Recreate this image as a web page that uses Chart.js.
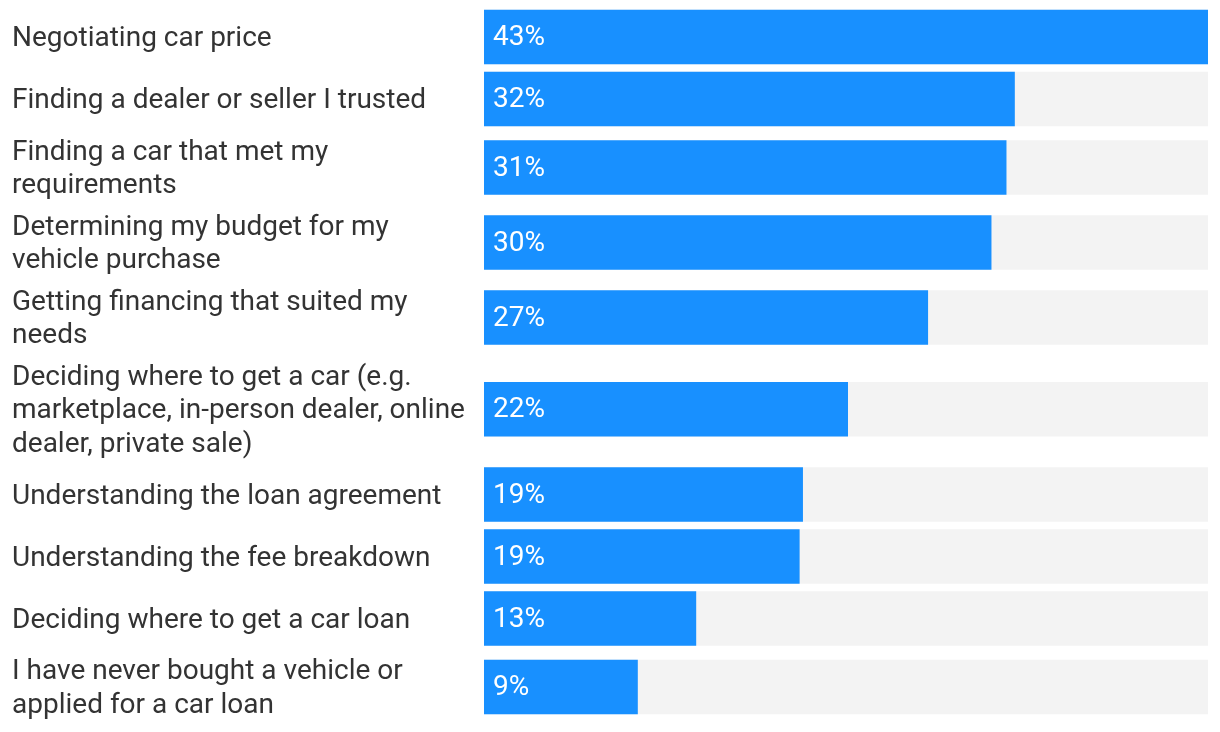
<!DOCTYPE html>
<html>
<head>
<meta charset="utf-8">
<script src="https://cdn.jsdelivr.net/npm/chart.js@4/dist/chart.umd.min.js"></script>
<style>
    html, body { margin: 0; padding: 0; background: #fff; }
    #wrap { width: 1220px; height: 732px; }
</style>
</head>
<body>
<div id="wrap"><canvas id="chart"></canvas></div>
<script>
const categories = [
    ["Negotiating car price"],
    ["Finding a dealer or seller I trusted"],
    ["Finding a car that met my", "requirements"],
    ["Determining my budget for my", "vehicle purchase"],
    ["Getting financing that suited my", "needs"],
    ["Deciding where to get a car (e.g.", "marketplace, in-person dealer, online", "dealer, private sale)"],
    ["Understanding the loan agreement"],
    ["Understanding the fee breakdown"],
    ["Deciding where to get a car loan"],
    ["I have never bought a vehicle or", "applied for a car loan"]
];
const values = [43.4, 31.8, 31.3, 30.4, 26.6, 21.8, 19.1, 18.9, 12.7, 9.2];
const valueLabels = ["43%", "32%", "31%", "30%", "27%", "22%", "19%", "19%", "13%", "9%"];

const barHeight = 54;
const lineHeight = 33.5;
const rowGap = 8;
const fontSize = 28;
const fontFamily = "Roboto, 'Open Sans', sans-serif";

// rows get taller when the label wraps, so place each row on a linear axis
let rowCenters = [];
let total = 0;
categories.forEach(lines => {
    let size = Math.max(barHeight, lines.length * lineHeight) + rowGap;
    rowCenters.push(total + size / 2);
    total += size;
});

const xMax = Math.max(...values);

const labelPlugin = {
    id: "rowLabels",
    afterDatasetsDraw(chart) {
        let ctx = chart.ctx;
        let yScale = chart.scales.y;
        let meta = chart.getDatasetMeta(0);
        ctx.save();
        ctx.font = fontSize + "px " + fontFamily;
        ctx.textAlign = "left";
        ctx.textBaseline = "middle";

        // category labels on the left
        ctx.fillStyle = "#333333";
        categories.forEach((lines, i) => {
            let cy = yScale.getPixelForValue(rowCenters[i]) + 2;
            lines.forEach((line, j) => {
                ctx.fillText(line, 12, cy + (j - (lines.length - 1) / 2) * lineHeight);
            });
        });

        // values inside the bars
        ctx.fillStyle = "#ffffff";
        meta.data.forEach((bar, i) => {
            ctx.fillText(valueLabels[i], bar.base + 9, bar.y + 1);
        });
        ctx.restore();
    }
};

new Chart(document.getElementById("chart"), {
    type: "bar",
    data: {
        datasets: [
            {
                data: values.map((v, i) => ({ x: v, y: rowCenters[i] })),
                backgroundColor: "#1890ff",
                barThickness: barHeight,
                grouped: false
            },
            {
                data: values.map((v, i) => ({ x: xMax, y: rowCenters[i] })),
                backgroundColor: "#f3f3f3",
                barThickness: barHeight,
                grouped: false
            }
        ]
    },
    options: {
        indexAxis: "y",
        responsive: true,
        maintainAspectRatio: false,
        animation: false,
        layout: { padding: { left: 484, right: 12, top: 6, bottom: 732 - 6 - total } },
        plugins: {
            legend: { display: false },
            tooltip: { enabled: false }
        },
        scales: {
            x: {
                display: false,
                min: 0,
                max: xMax
            },
            y: {
                type: "linear",
                display: false,
                offset: false,
                min: 0,
                max: total,
                reverse: true
            }
        }
    },
    plugins: [labelPlugin]
});
</script>
</body>
</html>
